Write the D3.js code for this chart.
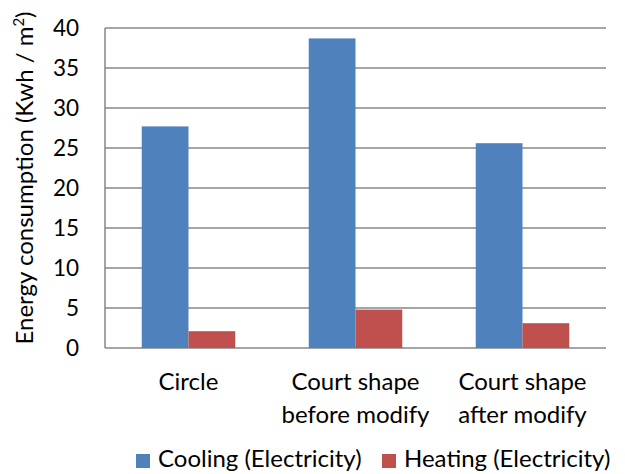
<!DOCTYPE html>
<html><head><meta charset="utf-8">
<script src="https://cdn.jsdelivr.net/npm/d3@7"></script>
<style>body{margin:0;background:#fff}svg{display:block}text{font-family:Lato,"Noto Sans",sans-serif;fill:#000}</style>
</head><body><svg id="c" width="625" height="474"></svg>
<script>
const categories = [["Circle"], ["Court shape","before modify"], ["Court shape","after modify"]];
const seriesNames = ["Cooling (Electricity)", "Heating (Electricity)"];
const cooling = [27.7, 38.7, 25.6];
const heating = [2.1, 4.8, 3.1];
const yTicks = [0,5,10,15,20,25,30,35,40];
const colors = ["#4F81BD", "#C0504D"];

const svg = d3.select("#c");
const m = {l:105, r:19, t:28, b:126};
const W = 625, H = 474;
const iw = W - m.l - m.r, ih = H - m.t - m.b;
const g = svg.append("g").attr("transform", `translate(${m.l},${m.t})`);
const y = d3.scaleLinear().domain([0,40]).range([ih,0]);
const x0 = d3.scaleBand().domain(d3.range(categories.length)).range([0,iw]).padding(0);
const x1 = d3.scaleBand().domain([0,1]).range([x0.bandwidth()*0.22, x0.bandwidth()*0.78]).padding(0);

g.append("g").selectAll("line").data(yTicks).join("line")
  .attr("x1",0).attr("x2",iw).attr("y1",d=>y(d)).attr("y2",d=>y(d))
  .attr("stroke","#878787").attr("stroke-width",1.5);
g.append("line").attr("x1",0).attr("x2",0).attr("y1",0).attr("y2",ih)
  .attr("stroke","#878787").attr("stroke-width",1.5);

const data = [cooling, heating];
data.forEach((vals, si) => {
  g.append("g").selectAll("rect").data(vals).join("rect")
    .attr("x",(d,i)=>x0(i)+x1(si)).attr("width",x1.bandwidth())
    .attr("y",d=>y(d)).attr("height",d=>ih-y(d))
    .attr("fill",colors[si]);
});

g.append("g").selectAll("text").data(yTicks).join("text")
  .attr("x",-26).attr("y",d=>y(d)).attr("dy","0.36em").attr("text-anchor","end")
  .style("font-size","22.5px").text(d=>d);

categories.forEach((lines,i)=>{
  const t = g.append("text").attr("text-anchor","middle").style("font-size","24px");
  lines.forEach((ln,k)=>{
    t.append("tspan").attr("x",x0(i)+x0.bandwidth()/2).attr("y",ih+42+k*33).text(ln);
  });
});

svg.append("text").attr("transform","translate(33,178) rotate(-90)").attr("text-anchor","middle")
  .style("font-size","24px").html('Energy consumption (Kwh / m<tspan dy="-9" style="font-size:15px">2</tspan><tspan dy="9">)</tspan>');

const leg = svg.append("g");
const lx = [136, 382];
seriesNames.forEach((n,i)=>{
  leg.append("rect").attr("x",lx[i]).attr("y",454).attr("width",14).attr("height",14).attr("fill",colors[i]);
  leg.append("text").attr("x",lx[i]+22).attr("y",467).style("font-size","24px").text(n);
});
</script></body></html>
